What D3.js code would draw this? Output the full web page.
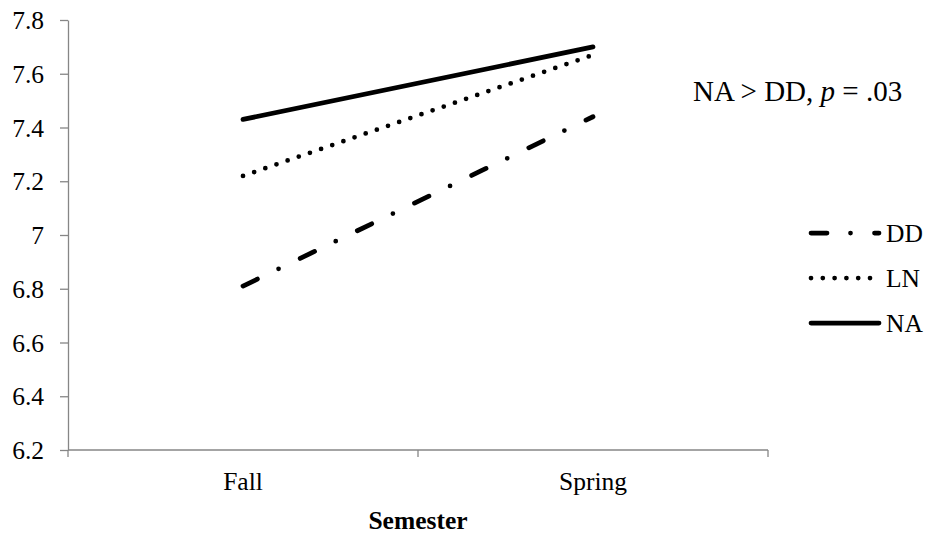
<!DOCTYPE html><html><meta charset="UTF-8">
<title>Semester</title>
<style>
  body { margin: 0; overflow: hidden; background: #fff; }
  text { font-family: "Liberation Serif", "Times New Roman", serif; fill: #000; }
  .axis path, .axis line { stroke: #868686; stroke-width: 1.3px; }
</style>
<script src="https://cdn.jsdelivr.net/npm/d3@7"></script>
<svg width="931" height="546"></svg>
<script>

var semesters = ["Fall", "Spring"],
    groups = ["DD", "LN", "NA"],
    ddValues = [6.81, 7.44],
    lnValues = [7.22, 7.67],
    naValues = [7.43, 7.70],
    yTicks = [6.2, 6.4, 6.6, 6.8, 7.0, 7.2, 7.4, 7.6, 7.8];

var series = [
  {name: groups[0], values: ddValues, dash: "16,23.5,0,24"},
  {name: groups[1], values: lnValues, dash: "0,11.8"},
  {name: groups[2], values: naValues, dash: null}
];

// plot box (note: "top" is taken by window.top)
var svg = d3.select("svg"),
    plotL = 68, plotR = 768, plotT = 20, plotB = 450,
    fontSize = "25.5px";

var x = d3.scaleBand().domain(semesters).range([plotL, plotR]);
var y = d3.scaleLinear().domain([6.2, 7.8]).range([plotB, plotT]);

// y axis
var yAxis = svg.append("g")
    .attr("class", "axis")
    .attr("transform", "translate(" + plotL + ",0)")
    .call(d3.axisLeft(y)
      .tickValues(yTicks)
      .tickSize(8)
      .tickSizeOuter(0)
      .tickPadding(16)
      .tickFormat(d => String(+d.toFixed(1))));
yAxis.selectAll("text").style("font-size", fontSize).attr("dy", "0.34em");

// x axis: line + boundary ticks, labels at band centres
var xAxis = svg.append("g").attr("class", "axis");
xAxis.append("line")
    .attr("x1", plotL).attr("x2", plotR)
    .attr("y1", plotB).attr("y2", plotB);
xAxis.selectAll(".bound")
    .data(semesters.map(d => x(d)).concat([plotR]))
    .enter().append("line")
    .attr("x1", d => d).attr("x2", d => d)
    .attr("y1", plotB).attr("y2", plotB + 7);
svg.selectAll(".xlabel")
    .data(semesters)
    .enter().append("text")
    .attr("x", d => x(d) + x.bandwidth() / 2)
    .attr("y", 490)
    .attr("text-anchor", "middle")
    .style("font-size", fontSize)
    .text(d => d);

svg.append("text")
    .attr("x", (plotL + plotR) / 2)
    .attr("y", 529)
    .attr("text-anchor", "middle")
    .style("font-size", fontSize)
    .style("font-weight", "bold")
    .text("Semester");

// lines
var line = d3.line()
    .x((d, i) => x(semesters[i]) + x.bandwidth() / 2)
    .y(d => y(d));

svg.selectAll(".series")
    .data(series)
    .enter().append("path")
    .attr("d", d => line(d.values))
    .attr("fill", "none")
    .attr("stroke", "#000")
    .attr("stroke-width", 4.75)
    .attr("stroke-linecap", "round")
    .attr("stroke-dasharray", d => d.dash);

// legend
var legend = svg.selectAll(".legend")
    .data(series)
    .enter().append("g")
    .attr("transform", (d, i) => "translate(0," + (233 + i * 45) + ")");
legend.append("line")
    .attr("x1", 811).attr("x2", 879)
    .attr("stroke", "#000")
    .attr("stroke-width", 4.75)
    .attr("stroke-linecap", "round")
    .attr("stroke-dasharray", d => d.dash);
legend.append("text")
    .attr("x", 886)
    .attr("y", 8.5)
    .style("font-size", fontSize)
    .text(d => d.name);

// annotation
var note = svg.append("text")
    .attr("x", 693)
    .attr("y", 101)
    .style("font-size", "29px");
note.append("tspan").text("NA > DD, ");
note.append("tspan").style("font-style", "italic").text("p");
note.append("tspan").text(" = .03");

</script>
</html>
